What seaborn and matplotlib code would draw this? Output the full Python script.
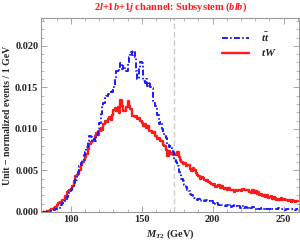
import numpy as np
import pandas as pd
import seaborn as sns
import matplotlib.pyplot as plt

# --- data: normalized M_T2 distributions, 1 GeV bins from 80 GeV (units of 1e-4) ---
bin_start = 80
tt_vals = [0, 0, 0, 0, 0, 1, 1, 2, 2, 3,
           4, 5, 7, 9, 11, 13, 15, 18, 20, 24,
           26, 29, 33, 38, 44, 48, 55, 59, 63, 68,
           72, 78, 85, 92, 90, 86, 88, 86, 93, 100,
           107, 118, 127, 131, 137, 140, 142, 144, 147, 145,
           151, 160, 170, 168, 174, 179, 172, 176, 171, 170,
           178, 186, 193, 189, 194, 186, 170, 160, 172, 180,
           179, 158, 155, 160, 152, 156, 150, 149, 131, 128,
           126, 117, 106, 108, 100, 96, 91, 89, 82, 78,
           79, 75, 72, 64, 60, 55, 48, 46, 40, 37,
           33, 30, 27, 25, 22, 21, 19, 17, 16, 15,
           16, 13, 14, 15, 13, 14, 15, 13, 12, 13,
           11, 12, 10, 11, 9, 10, 9, 8, 9, 7,
           8, 7, 8, 6, 7, 8, 7, 6, 7, 5,
           6, 7, 5, 6, 5, 6, 4, 5, 6, 5,
           4, 5, 3, 4, 5, 4, 3, 5, 4, 3,
           4, 5, 3, 4, 3, 4, 5, 3, 4, 3,
           4, 2, 4, 3, 4, 3, 4, 3, 2, 3]
tw_vals = [0, 0, 0, 1, 1, 2, 3, 4, 5, 6,
           9, 11, 12, 12, 14, 15, 19, 24, 25, 26,
           28, 31, 37, 43, 45, 46, 50, 56, 60, 63,
           66, 70, 76, 82, 84, 86, 88, 92, 95, 93,
           98, 101, 99, 106, 110, 108, 112, 114, 111, 117,
           123, 125, 121, 126, 119, 135, 127, 122, 121, 126,
           133, 128, 124, 116, 115, 114, 116, 112, 113, 110,
           107, 104, 106, 101, 103, 98, 97, 95, 96, 91,
           92, 88, 89, 85, 86, 81, 79, 75, 67, 73,
           70, 71, 68, 70, 69, 72, 66, 63, 60, 58,
           59, 55, 57, 56, 52, 49, 53, 51, 47, 45,
           43, 40, 42, 41, 38, 37, 39, 36, 35, 34,
           33, 34, 30, 31, 32, 29, 31, 29, 28, 29,
           27, 29, 26, 27, 26, 24, 26, 25, 27, 26,
           25, 28, 26, 27, 27, 26, 24, 23, 26, 23,
           25, 22, 24, 21, 22, 19, 21, 18, 20, 17,
           18, 19, 16, 18, 17, 15, 16, 14, 17, 15,
           16, 14, 15, 13, 14, 12, 15, 13, 12, 13]
top_mass = 172.5
title = '2$l$+1$b$+1$j$ channel: Subsystem ($blb$)'

edges = np.arange(bin_start, bin_start + len(tt_vals) + 1)
df_tt = pd.DataFrame({'M': edges, 'y': np.array(tt_vals + [tt_vals[-1]]) * 1e-4})
df_tw = pd.DataFrame({'M': edges, 'y': np.array(tw_vals + [tw_vals[-1]]) * 1e-4})

# --- style ---
sns.set_style('ticks')
plt.rcParams['font.family'] = ['Liberation Serif', 'DejaVu Serif']
plt.rcParams['font.weight'] = 'bold'
plt.rcParams['mathtext.fontset'] = 'custom'
plt.rcParams['mathtext.rm'] = 'Liberation Serif:bold'
plt.rcParams['mathtext.it'] = 'Liberation Serif:italic:bold'
plt.rcParams['mathtext.bf'] = 'Liberation Serif:bold'

fig = plt.figure(figsize=(3.0, 2.42), dpi=100)
ax = fig.add_axes([0.137, 0.124, 0.86, 0.8])

sns.lineplot(data=df_tw, x='M', y='y', ax=ax, color='#ff1a1a', lw=1.7,
             drawstyle='steps-post', label='$tW$', zorder=3)
sns.lineplot(data=df_tt, x='M', y='y', ax=ax, color='#1a1aff', lw=1.4,
             drawstyle='steps-post', label=r'$t\bar{t}$', zorder=4,
             linestyle=(0, (3, 1.2, 0.8, 1.2)))
ax.axvline(top_mass, color='#cccccc', lw=1.0, ls=(0, (4, 2)), zorder=1)

ax.set_xlim(79, 261)
ax.set_ylim(0, 0.0233)
ax.set_xticks([100, 150, 200, 250])
ax.set_xticks(np.arange(80, 261, 10), minor=True)
ax.set_yticks([0, 0.005, 0.01, 0.015, 0.02])
ax.set_yticklabels(['0.000', '0.005', '0.010', '0.015', '0.020'])
ax.set_yticks(np.arange(0, 0.0231, 0.001), minor=True)
ax.tick_params(which='both', direction='in', top=True, right=True,
               labelsize=7.5, color='#999999', pad=2)
ax.tick_params(which='major', length=4, width=0.6)
ax.tick_params(which='minor', length=2, width=0.5)
for s in ax.spines.values():
    s.set_color('#999999')
    s.set_linewidth(0.8)

ax.set_xlabel('$M_{T2}$ (GeV)', fontsize=7.5, fontweight='bold', labelpad=3)
ax.set_ylabel('Unit \u2212 normalized events / 1 GeV', fontsize=7,
              fontweight='bold', labelpad=2)
ax.set_title(title, color='#ff1a1a', fontsize=7.5, fontweight='bold', pad=6)

handles, labels = ax.get_legend_handles_labels()
ax.legend(handles[::-1], labels[::-1], loc='upper left',
          bbox_to_anchor=(0.70, 0.935), frameon=False, fontsize=8,
          borderpad=0, borderaxespad=0, handlelength=2.5,
          labelspacing=0.3, handletextpad=1.0)

fig.savefig('out.png', dpi=100)
